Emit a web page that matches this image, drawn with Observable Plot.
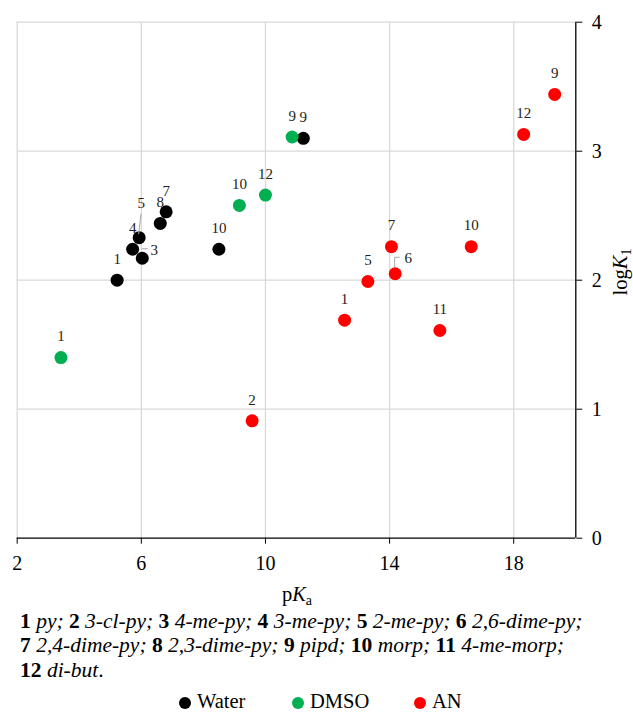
<!DOCTYPE html>
<html>
<head>
<meta charset="utf-8">
<script src="https://cdn.jsdelivr.net/npm/d3@7"></script>
<script src="https://cdn.jsdelivr.net/npm/@observablehq/plot@0.6"></script>
<style>
  html, body { margin: 0; padding: 0; background: #fff; }
  #wrap { position: relative; width: 633px; height: 712px; overflow: hidden; font-family: "Liberation Serif", "Tinos", "Times New Roman", "DejaVu Serif", serif; color: #000; }
  #caption { position: absolute; left: 20px; top: 608.5px; font-size: 21.5px; line-height: 24.5px; white-space: nowrap; }
  #caption b { font-weight: bold; font-style: normal; }
  #legend { position: absolute; left: 0; top: 691px; width: 633px; height: 21px; font-size: 20.5px; }
  .li { position: absolute; top: 0; line-height: 20px; white-space: nowrap; }
  .sw { display: inline-block; width: 12px; height: 12px; border-radius: 50%; margin-right: 6px; vertical-align: -1px; }
</style>
</head>
<body>
<div id="wrap">
  <div id="chart"></div>
  <div id="caption"></div>
  <div id="legend"></div>
</div>
<script>
// ---------- data ----------
const solvents = ["Water", "DMSO", "AN"];
const solventColors = ["#000000", "#00b050", "#ff0000"];

const waterIds  = [1, 3, 4, 5, 8, 7, 10, 9];
const waterPKa  = [5.22, 6.03, 5.72, 5.93, 6.61, 6.80, 8.50, 11.22];
const waterLogK = [2.00, 2.17, 2.24, 2.33, 2.44, 2.53, 2.24, 3.10];

const dmsoIds  = [1, 10, 12, 9];
const dmsoPKa  = [3.41, 9.16, 10.00, 10.86];
const dmsoLogK = [1.40, 2.58, 2.66, 3.11];

const anIds  = [2, 1, 5, 6, 7, 11, 10, 12, 9];
const anPKa  = [9.57, 12.55, 13.30, 14.18, 14.06, 15.62, 16.63, 18.32, 19.32];
const anLogK = [0.91, 1.69, 1.99, 2.05, 2.26, 1.61, 2.26, 3.13, 3.44];

const xTicks = [2, 6, 10, 14, 18];
const yTicks = [0, 1, 2, 3, 4];
const xDomain = [2, 20];
const yDomain = [0, 4];

const captionItems = [
  [["1", "py;"], ["2", "3-cl-py;"], ["3", "4-me-py;"], ["4", "3-me-py;"], ["5", "2-me-py;"], ["6", "2,6-dime-py;"]],
  [["7", "2,4-dime-py;"], ["8", "2,3-dime-py;"], ["9", "pipd;"], ["10", "morp;"], ["11", "4-me-morp;"]],
  [["12", "di-but"]]
];

// ---------- build table ----------
const points = [];
function addSeries(name, ids, px, ly) {
  ids.forEach((id, i) => points.push({ solvent: name, id, pKa: px[i], logK: ly[i] }));
}
addSeries("Water", waterIds, waterPKa, waterLogK);
addSeries("DMSO", dmsoIds, dmsoPKa, dmsoLogK);
addSeries("AN", anIds, anPKa, anLogK);

// label placement (pixel offsets) for labels not simply above the point
const specialLabel = { "Water-3": [12, -8], "Water-5": [2, -34], "AN-6": [13, -16] };
const key = d => d.solvent + "-" + d.id;
const plainLabels = points.filter(d => !specialLabel[key(d)]);
const specials = points.filter(d => specialLabel[key(d)]);

const FONT = "'Liberation Serif', 'Tinos', 'Times New Roman', 'DejaVu Serif', serif";
const W = 633, H = 610;
const mL = 16.7, mR = 57.7, mT = 21.7, mB = H - 537.7;

const marks = [
  Plot.gridX(xTicks, { stroke: "#d9d9d9", strokeOpacity: 1, strokeWidth: 1.3 }),
  Plot.gridY(yTicks.filter(v => v > 0), { stroke: "#d9d9d9", strokeOpacity: 1, strokeWidth: 1.3 }),
  Plot.axisX(xTicks, { tickSize: 6, tickPadding: 12, label: null, fontSize: 20, stroke: "#000", tickFormat: d3.format("d") }),
  Plot.axisY(yTicks, { anchor: "right", tickSize: 6, tickPadding: 10, label: null, fontSize: 20, stroke: "#000", tickFormat: d3.format("d") }),
  Plot.ruleY([yDomain[0]], { stroke: "#000", strokeWidth: 1.3 }),
  Plot.ruleX([xDomain[1]], { stroke: "#000", strokeWidth: 1.3 }),
  Plot.dot(points, { x: "pKa", y: "logK", fill: "solvent", r: 6.5, stroke: "none" }),
  Plot.text(plainLabels, { x: "pKa", y: "logK", text: d => String(d.id), dy: -21, fontSize: 15, fill: "#222" })
];
specials.forEach(d => {
  const [dx, dy] = specialLabel[key(d)];
  marks.push(Plot.text([d], { x: "pKa", y: "logK", text: d => String(d.id), dx, dy, fontSize: 15, fill: "#222" }));
});

const plot = Plot.plot({
  width: W, height: H,
  marginLeft: mL, marginRight: mR, marginTop: mT, marginBottom: mB,
  style: { fontFamily: FONT, fontSize: "20px", background: "#fff", color: "#000" },
  x: { domain: xDomain, axis: null },
  y: { domain: yDomain, axis: null },
  color: { domain: solvents, range: solventColors },
  marks
});
document.getElementById("chart").appendChild(plot);

// ---------- leaders and axis titles ----------
const svg = d3.select(plot);
const sx = plot.scale("x"), sy = plot.scale("y");
const fx = sx.apply ? v => sx.apply(v) : d3.scaleLinear(sx.domain, sx.range);
const fy = sy.apply ? v => sy.apply(v) : d3.scaleLinear(sy.domain, sy.range);

const leaderShapes = {
  "Water-5": p => `M${p[0] + 2.3},${p[1] - 23} L${p[0]},${p[1] - 3}`,
  "Water-3": p => `M${p[0]},${p[1] - 9} L${p[0] + 6},${p[1] - 9}`,
  "AN-6": p => `M${p[0]},${p[1] - 6} L${p[0]},${p[1] - 16} L${p[0] + 5},${p[1] - 16}`
};
const lg = svg.append("g").attr("fill", "none").attr("stroke", "#a6a6a6").attr("stroke-width", 1);
specials.forEach(d => {
  const p = [fx(d.pKa), fy(d.logK)];
  lg.append("path").attr("d", leaderShapes[key(d)](p));
});

// x title: pKa
const xt = svg.append("text")
  .attr("x", 297)
  .attr("y", 601)
  .attr("text-anchor", "middle")
  .attr("font-size", 20.5)
  .attr("font-family", FONT)
  .attr("fill", "#000");
xt.append("tspan").text("p");
xt.append("tspan").attr("font-style", "italic").text("K");
xt.append("tspan").attr("font-size", 14).attr("dy", 4).text("a");

// y title: logK1
const yt = svg.append("text")
  .attr("transform", `translate(${W - 6},${272}) rotate(-90)`)
  .attr("text-anchor", "middle")
  .attr("font-size", 20.5)
  .attr("font-family", FONT)
  .attr("fill", "#000");
yt.append("tspan").text("log");
yt.append("tspan").attr("font-style", "italic").text("K");
yt.append("tspan").attr("font-size", 14).attr("dy", 4).text("1");

// ---------- caption ----------
const cap = document.getElementById("caption");
captionItems.forEach((line, li) => {
  const div = document.createElement("div");
  line.forEach((it, i) => {
    const b = document.createElement("b"); b.textContent = it[0];
    const t = document.createElement("i"); t.textContent = " " + it[1];
    div.appendChild(b); div.appendChild(t);
    if (i < line.length - 1) div.appendChild(document.createTextNode(" "));
  });
  if (li === captionItems.length - 1) div.appendChild(document.createTextNode("."));
  cap.appendChild(div);
});

// ---------- legend ----------
const legendLeft = [179, 292, 414];
const leg = document.getElementById("legend");
solvents.forEach((s, i) => {
  const it = document.createElement("span");
  it.className = "li";
  it.style.left = legendLeft[i] + "px";
  const sw = document.createElement("span");
  sw.className = "sw";
  sw.style.background = solventColors[i];
  it.appendChild(sw);
  it.appendChild(document.createTextNode(s));
  leg.appendChild(it);
});
</script>
</body>
</html>
